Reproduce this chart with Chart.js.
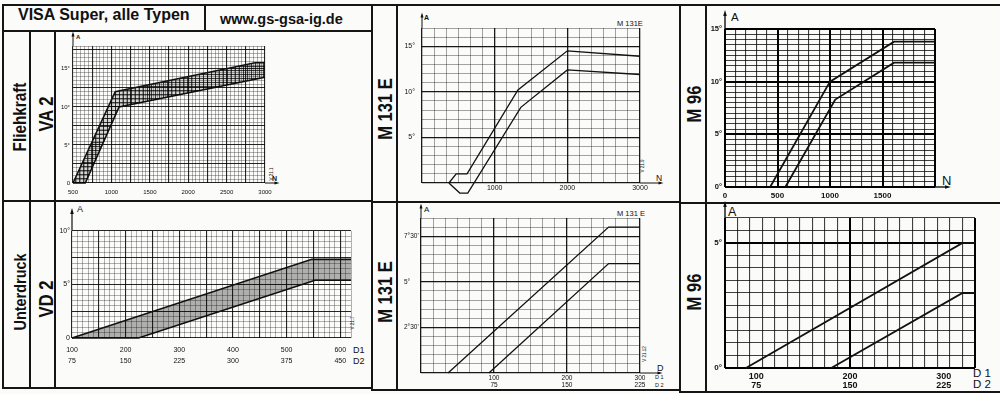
<!DOCTYPE html>
<html>
<head>
<meta charset="utf-8">
<script src="https://cdn.jsdelivr.net/npm/chart.js@4.4.0/dist/chart.umd.min.js"></script>
<style>
html, body { margin: 0; padding: 0; background: #fbfbfa; }
#sheet { position: relative; width: 1000px; height: 394px; overflow: hidden; font-family: "Liberation Sans", Arial, sans-serif; color: #111; }
.ln { position: absolute; background: #151515; }
.t { position: absolute; white-space: nowrap; line-height: 1; }
.b { font-weight: bold; }
.rot { transform: translate(-50%, -50%) rotate(-90deg) scaleX(0.85); }
.tiny { transform: translate(-50%, -50%) rotate(-90deg); font-size: 4.5px; }
canvas { position: absolute; }
</style>
</head>
<body>
<div id="sheet">
  <!-- frame -->
  <div class="ln" style="left:2px;top:4px;width:998px;height:2px"></div>
  <div class="ln" style="left:204px;top:4px;width:2px;height:27px"></div>
  <div class="ln" style="left:2px;top:30px;width:371px;height:2px"></div>
  <div class="ln" style="left:2px;top:4px;width:2px;height:384px"></div>
  <div class="ln" style="left:29px;top:30px;width:2px;height:358px"></div>
  <div class="ln" style="left:54px;top:30px;width:2px;height:358px"></div>
  <div class="ln" style="left:371px;top:4px;width:2px;height:386px"></div>
  <div class="ln" style="left:396px;top:4px;width:2px;height:386px"></div>
  <div class="ln" style="left:679px;top:4px;width:2px;height:388px"></div>
  <div class="ln" style="left:705px;top:4px;width:2px;height:388px"></div>
  <div class="ln" style="left:2px;top:200px;width:371px;height:2px"></div>
  <div class="ln" style="left:371px;top:201px;width:310px;height:2px"></div>
  <div class="ln" style="left:679px;top:202px;width:321px;height:2px"></div>
  <div class="ln" style="left:2px;top:387px;width:371px;height:2px"></div>
  <div class="ln" style="left:371px;top:389px;width:310px;height:2px"></div>
  <div class="ln" style="left:679px;top:391px;width:321px;height:2px"></div>

  <!-- header -->
  <div class="t b" style="left:18px;top:7px;font-size:16px">VISA Super, alle Typen</div>
  <div class="t b" style="left:220px;top:12px;font-size:14.5px">www.gs-gsa-ig.de</div>

  <!-- row / column captions -->
  <div class="t b rot" style="left:20px;top:117px;font-size:18px">Fliehkraft</div>
  <div class="t b rot" style="left:46.5px;top:114px;font-size:19.5px">VA 2</div>
  <div class="t b rot" style="left:20px;top:292px;font-size:17px">Unterdruck</div>
  <div class="t b rot" style="left:46.5px;top:299px;font-size:19.5px">VD 2</div>
  <div class="t b rot" style="left:385.5px;top:109px;font-size:19.5px">M 131 E</div>
  <div class="t b rot" style="left:386px;top:292px;font-size:19.5px">M 131 E</div>
  <div class="t b rot" style="left:695px;top:104px;font-size:19.5px">M 96</div>
  <div class="t b rot" style="left:695px;top:292px;font-size:19.5px">M 96</div>

  <!-- axis letters -->
  <div class="t b" style="left:76px;top:34px;font-size:6px">A</div>
  <div class="t b" style="left:272px;top:175px;font-size:7px">N</div>
  <div class="t" style="left:77px;top:205px;font-size:9px">A</div>
  <div class="t" style="left:353px;top:346px;font-size:9px">D1</div>
  <div class="t" style="left:353px;top:357px;font-size:9px">D2</div>
  <div class="t b" style="left:424px;top:14px;font-size:7px">A</div>
  <div class="t" style="left:617px;top:20px;font-size:7.5px">M 131E</div>
  <div class="t" style="left:656px;top:174px;font-size:8.5px">N</div>
  <div class="t" style="left:424px;top:206px;font-size:8px">A</div>
  <div class="t" style="left:617px;top:210px;font-size:7.5px">M 131 E</div>
  <div class="t" style="left:657px;top:364px;font-size:9px">D</div>
  <div class="t" style="left:655px;top:375px;font-size:5.5px">D 1</div>
  <div class="t" style="left:655px;top:383px;font-size:5.5px">D 2</div>
  <div class="t" style="left:731px;top:12px;font-size:11.5px">A</div>
  <div class="t" style="left:942px;top:174px;font-size:13px">N</div>
  <div class="t" style="left:728px;top:206px;font-size:12.5px">A</div>
  <div class="t" style="left:973px;top:368px;font-size:11.5px">D 1</div>
  <div class="t" style="left:973px;top:379px;font-size:11.5px">D 2</div>

  <!-- drawing numbers -->
  <div class="t tiny" style="left:272px;top:174px">V 21.1</div>
  <div class="t tiny" style="left:353px;top:323px">V 21.7</div>
  <div class="t tiny" style="left:643px;top:166px">V 21.9</div>
  <div class="t tiny" style="left:645px;top:354px">V 21.12</div>
</div>

<script>
// ---- VA 2 (Fliehkraft), N in 1/min, A in degrees
const va2Ticks = [500, 1000, 1500, 2000, 2500, 3000];
const va2ATicks = [0, 5, 10, 15];
const va2ALabels = ['0', '5°', '10°', '15°'];
const va2UpperN = [500, 1050, 2870, 3000];
const va2UpperA = [0, 12, 15.8, 15.8];
const va2LowerN = [500, 660, 1100, 3000];
const va2LowerA = [0, 0, 10, 13.9];

// ---- VD 2 (Unterdruck), D1 / D2 scales
const vd2D1 = [100, 200, 300, 400, 500, 600];
const vd2D2 = [75, 150, 225, 300, 375, 450];
const vd2ATicks = [0, 5, 10];
const vd2ALabels = ['0', '5°', '10°'];
const vd2UpperD = [100, 547, 620];
const vd2UpperA = [0, 7.35, 7.35];
const vd2LowerD = [100, 224, 553, 620];
const vd2LowerA = [0, 0, 5.4, 5.4];

// ---- M 131 E, Fliehkraft
const m131NTicks = [1000, 2000, 3000];
const m131ATicks = [5, 10, 15];
const m131ALabels = ['5°', '10°', '15°'];
const m131UpperN = [370, 470, 620, 1320, 2000, 3000];
const m131UpperA = [0, 1, 1, 10.2, 14.5, 13.9];
const m131LowerN = [370, 520, 630, 1360, 2000, 3000];
const m131LowerA = [0, -1.1, -1.1, 8.3, 12.4, 11.9];

// ---- M 131 E, Unterdruck
const m131D1 = [100, 200, 300];
const m131D2 = [75, 150, 225];
const m131VacTicks = [2.5, 5, 7.5];
const m131VacLabels = ["2°30'", '5°', "7°30'"];
const m131VacUpperD = [37, 257, 300];
const m131VacUpperA = [0, 8, 8];
const m131VacLowerD = [93, 257, 300];
const m131VacLowerA = [0, 6, 6];

// ---- M 96, Fliehkraft
const m96NTicks = [0, 500, 1000, 1500];
const m96ATicks = [0, 5, 10, 15];
const m96ALabels = ['0°', '5°', '10°', '15°'];
const m96UpperN = [430, 1000, 1610, 2000];
const m96UpperA = [0, 10, 13.8, 13.8];
const m96LowerN = [575, 1050, 1610, 2000];
const m96LowerA = [0, 8.3, 11.8, 11.8];

// ---- M 96, Unterdruck
const m96D1 = [100, 200, 300];
const m96D2 = [75, 150, 225];
const m96VacTicks = [0, 5];
const m96VacLabels = ['0°', '5°'];
const m96VacUpperD = [89, 320, 333.3];
const m96VacUpperA = [0, 5, 5];
const m96VacLowerD = [180, 320, 333.3];
const m96VacLowerA = [0, 3, 3];

Chart.defaults.font.family = "'Liberation Sans', Arial, sans-serif";
Chart.defaults.color = '#111';

const sheet = document.getElementById('sheet');

function pts(xs, ys) {
  return xs.map((x, i) => ({ x: x, y: ys[i] }));
}

function curve(xs, ys, width, extra) {
  return Object.assign({
    data: pts(xs, ys), showLine: true, borderColor: '#111', borderWidth: width,
    pointRadius: 0, fill: false, clip: false, tension: 0
  }, extra || {});
}

function hatch(step) {
  const c = document.createElement('canvas');
  c.width = c.height = step;
  const g = c.getContext('2d');
  g.fillStyle = 'rgba(0,0,0,0.15)';
  g.fillRect(0, 0, step, step);
  g.fillStyle = 'rgba(0,0,0,0.7)';
  g.fillRect(0, 0, 1, step);
  g.fillRect(0, 0, step, 1);
  return g.createPattern(c, 'repeat');
}

// grid-only axis: lines every `step`, every `major`-th line heavier
function gridScale(pos, min, max, step, major, look) {
  const isMajor = c => major && c.index % major === 0;
  return {
    type: 'linear', position: pos, min: min, max: max,
    afterBuildTicks: s => {
      const n = Math.round((max - min) / step);
      s.ticks = [];
      for (let i = 0; i <= n; i++) s.ticks.push({ value: min + i * step });
    },
    afterFit: s => { if (pos === 'bottom') s.height = 0; else s.width = 0; },
    ticks: { display: false },
    border: { display: false },
    grid: {
      drawTicks: false,
      color: c => isMajor(c) ? look.major : look.minor,
      lineWidth: c => isMajor(c) ? look.majorW : look.minorW
    }
  };
}

// label-only axis
function labelScale(pos, min, max, values, labels, size, font, pad, align) {
  return {
    type: 'linear', position: pos, min: min, max: max,
    afterBuildTicks: s => { s.ticks = values.map(v => ({ value: v })); },
    afterFit: s => { if (pos === 'bottom') s.height = size; else s.width = size; },
    grid: { display: false, drawTicks: false },
    border: { display: false },
    ticks: {
      autoSkip: false, maxRotation: 0, minRotation: 0, padding: pad, font: font,
      color: '#111', crossAlign: align || 'near', callback: (v, i) => labels[i]
    }
  };
}

const arrows = {
  id: 'arrows',
  afterDraw(chart, args, o) {
    const { ctx, chartArea: a } = chart;
    const h = o.head || 3;
    ctx.save();
    ctx.strokeStyle = '#111';
    ctx.fillStyle = '#111';
    ctx.lineWidth = o.width || 1.2;
    if (o.up) {
      const y = a.top - o.up;
      ctx.beginPath(); ctx.moveTo(a.left, a.top); ctx.lineTo(a.left, y); ctx.stroke();
      ctx.beginPath(); ctx.moveTo(a.left, y - h); ctx.lineTo(a.left - h * 0.6, y + h); ctx.lineTo(a.left + h * 0.6, y + h); ctx.closePath(); ctx.fill();
    }
    if (o.right) {
      const x = a.right + o.right;
      ctx.beginPath(); ctx.moveTo(a.right, a.bottom); ctx.lineTo(x, a.bottom); ctx.stroke();
      ctx.beginPath(); ctx.moveTo(x + h, a.bottom); ctx.lineTo(x - h, a.bottom - h * 0.6); ctx.lineTo(x - h, a.bottom + h * 0.6); ctx.closePath(); ctx.fill();
    }
    ctx.restore();
  }
};

function panel(box, pad, scales, datasets, arrowOpts) {
  const cv = document.createElement('canvas');
  const w = box.r - box.l + pad.yw + pad.pr;
  const h = box.b - box.t + pad.pt + pad.xh;
  cv.width = w; cv.height = h;
  cv.style.left = (box.l - pad.yw) + 'px';
  cv.style.top = (box.t - pad.pt) + 'px';
  cv.style.width = w + 'px';
  cv.style.height = h + 'px';
  sheet.appendChild(cv);
  return new Chart(cv, {
    type: 'scatter',
    data: { datasets: datasets },
    options: {
      responsive: false, animation: false, devicePixelRatio: 1, events: [],
      layout: { autoPadding: false, padding: { top: pad.pt, right: pad.pr, left: 0, bottom: 0 } },
      scales: scales,
      plugins: { legend: { display: false }, tooltip: { enabled: false }, arrows: arrowOpts }
    },
    plugins: [arrows]
  });
}

const fineLook = { minor: 'rgba(0,0,0,0.5)', minorW: 0.6, major: 'rgba(0,0,0,0.85)', majorW: 1.1 };
const midLook = { minor: 'rgba(0,0,0,0.45)', minorW: 0.8, major: 'rgba(0,0,0,0.9)', majorW: 1.3 };
const boldLook = { minor: 'rgba(0,0,0,0.75)', minorW: 1.1, major: '#000', majorW: 2 };

// VA 2
panel({ l: 73, t: 46, r: 265, b: 183 }, { yw: 22, pt: 16, pr: 20, xh: 14 }, {
  x: gridScale('bottom', 500, 3000, 50, 5, fineLook),
  y: gridScale('left', 0, 18, 0.5, 5, fineLook),
  xl: labelScale('bottom', 500, 3000, va2Ticks, va2Ticks.map(String), 14, { size: 6 }, 6),
  yl: labelScale('left', 0, 18, va2ATicks, va2ALabels, 22, { size: 6 }, 3)
}, [
  curve(va2UpperN, va2UpperA, 1.6, { fill: '+1', backgroundColor: hatch(4) }),
  curve(va2LowerN, va2LowerA, 1.6)
], { up: 12, right: 12, head: 2.5, width: 1 });

// VD 2
panel({ l: 72, t: 231, r: 351, b: 338 }, { yw: 22, pt: 24, pr: 22, xh: 28 }, {
  x: gridScale('bottom', 100, 620, 10, 5, fineLook),
  y: gridScale('left', 0, 10, 0.5, 5, fineLook),
  xl: labelScale('bottom', 100, 620, vd2D1, vd2D1.map((d, i) => [String(d), String(vd2D2[i])]), 28, { size: 7, lineHeight: 1.5 }, 7),
  yl: labelScale('left', 0, 10, vd2ATicks, vd2ALabels, 22, { size: 7 }, 2)
}, [
  curve(vd2UpperD, vd2UpperA, 1.6, { fill: '+1', backgroundColor: 'rgba(0,0,0,0.3)' }),
  curve(vd2LowerD, vd2LowerA, 1.6)
], { up: 20, head: 3, width: 1.2 });

// M 131 E Fliehkraft
panel({ l: 422, t: 28, r: 640, b: 183 }, { yw: 24, pt: 18, pr: 30, xh: 16 }, {
  x: gridScale('bottom', 0, 3000, 1000 / 6, 6, midLook),
  y: gridScale('left', 0, 17, 1, 5, midLook),
  xl: labelScale('bottom', 0, 3000, m131NTicks, m131NTicks.map(String), 16, { size: 7 }, 1),
  yl: labelScale('left', 0, 17, m131ATicks, m131ALabels, 24, { size: 7 }, 7)
}, [
  curve(m131UpperN, m131UpperA, 1.3),
  curve(m131LowerN, m131LowerA, 1.3)
], { up: 13, right: 21, head: 2.5, width: 1 });

// M 131 E Unterdruck
panel({ l: 421, t: 218, r: 640, b: 373 }, { yw: 17, pt: 16, pr: 30, xh: 20 }, {
  x: gridScale('bottom', 0, 300, 100 / 6, 6, midLook),
  y: gridScale('left', 0, 8.5, 0.5, 5, midLook),
  xl: labelScale('bottom', 0, 300, m131D1, m131D1.map((d, i) => [String(d), String(m131D2[i])]), 20, { size: 6.5, lineHeight: 1.15 }, 1.2),
  yl: labelScale('left', 0, 8.5, m131VacTicks, m131VacLabels, 17, { size: 6.5 }, 2, 'far')
}, [
  curve(m131VacUpperD, m131VacUpperA, 1.3),
  curve(m131VacLowerD, m131VacLowerA, 1.3)
], { up: 12, right: 20, head: 2.5, width: 1 });

// M 96 Fliehkraft
panel({ l: 725, t: 29, r: 935, b: 187 }, { yw: 20, pt: 20, pr: 30, xh: 14 }, {
  x: gridScale('bottom', 0, 2000, 100, 5, boldLook),
  y: gridScale('left', 0, 15, 0.5, 10, boldLook),
  xl: labelScale('bottom', 0, 2000, m96NTicks, m96NTicks.map(String), 14, { size: 8, weight: 'bold' }, 3.7),
  yl: labelScale('left', 0, 15, m96ATicks, m96ALabels, 20, { size: 7.5, weight: 'bold' }, 3)
}, [
  curve(m96UpperN, m96UpperA, 1.8),
  curve(m96LowerN, m96LowerA, 1.8)
], { up: 16, right: 13, head: 3, width: 1.4 });

// M 96 Unterdruck
panel({ l: 725, t: 218, r: 975, b: 368 }, { yw: 20, pt: 18, pr: 25, xh: 26 }, {
  x: gridScale('bottom', 200 / 3, 1000 / 3, 40 / 3, 10, boldLook),
  y: gridScale('left', 0, 6, 0.5, 10, boldLook),
  xl: labelScale('bottom', 200 / 3, 1000 / 3, m96D1, m96D1.map((d, i) => [String(d), String(m96D2[i])]), 26, { size: 9, weight: 'bold', lineHeight: 1.05 }, 3.5),
  yl: labelScale('left', 0, 6, m96VacTicks, m96VacLabels, 20, { size: 8, weight: 'bold' }, 3)
}, [
  curve(m96VacUpperD, m96VacUpperA, 1.8),
  curve(m96VacLowerD, m96VacLowerA, 1.8)
], { up: 14, head: 3, width: 1.4 });
</script>
</body>
</html>
